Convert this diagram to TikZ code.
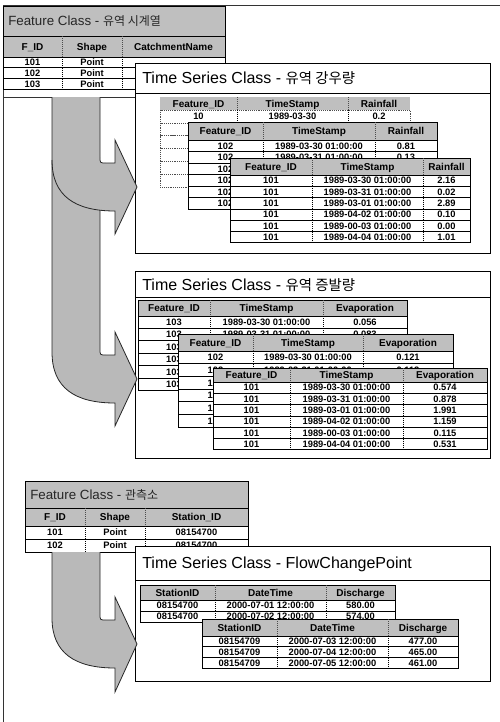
\documentclass[tikz,border=0pt]{standalone}
\usepackage{fontspec}
\setmainfont{Liberation Sans}
\newfontfamily\kr{Noto Sans CJK KR}[Scale=0.9]
\tikzset{
  hdr/.style={fill=gray!50, draw=black, line width=0.5pt},
  rowbox/.style={fill=white, draw=black, line width=0.5pt},
  csep/.style={densely dotted, line width=0.5pt},
  hsep/.style={densely dotted, line width=0.5pt, draw=black!70},
  htxt/.style={font=\bfseries\fontsize{7.5}{8}\selectfont, inner sep=0pt, text height=5.4pt, text depth=0pt},
  ctxt/.style={font=\bfseries\fontsize{7}{8}\selectfont, inner sep=0pt, text height=5pt, text depth=0pt},
  tsbox/.style={fill=white, draw=black, line width=0.75pt},
  tsline/.style={draw=black, line width=0.75pt},
  tstitle/.style={font=\fontsize{12}{14}\selectfont, anchor=west, inner sep=0pt},
  fctitle/.style={font=\fontsize{10}{12}\selectfont, anchor=west, inner sep=0pt, text=black!85},
  arrowfill/.style={fill=gray!55},
  arrowline/.style={draw=black!85, line width=0.6pt},
  frameline/.style={draw=black!80, line width=0.6pt}
}
% #1 name, #2 x0, #3 x1, #4 x2, #5 x3, #6 ytop, #7 yhead, #8 rowh, #9 rows
\newcommand\mktable[9]{%
  \foreach \a/\b/\c [count=\k from 0] in {#9}{%
    \ifnum\k=0
      \path[hdr] (#2,#6) rectangle (#5,#7);
      \draw[hsep] (#3,#6) -- (#3,#7) (#4,#6) -- (#4,#7);
      \node[htxt] (#1-h1) at ({(#2+#3)/2},{(#6+#7)/2}) {\a};
      \node[htxt] (#1-h2) at ({(#3+#4)/2},{(#6+#7)/2}) {\b};
      \node[htxt] (#1-h3) at ({(#4+#5)/2},{(#6+#7)/2}) {\c};
    \else
      \pgfmathsetmacro\ya{#7+(\k-1)*#8}%
      \pgfmathsetmacro\yb{#7+\k*#8}%
      \path[rowbox] (#2,\ya) rectangle (#5,\yb);
      \draw[csep] (#3,\ya) -- (#3,\yb) (#4,\ya) -- (#4,\yb);
      \node[ctxt] (#1-\k-1) at ({(#2+#3)/2},{(\ya+\yb)/2}) {\a};
      \node[ctxt] (#1-\k-2) at ({(#3+#4)/2},{(\ya+\yb)/2}) {\b};
      \node[ctxt] (#1-\k-3) at ({(#4+#5)/2},{(\ya+\yb)/2}) {\c};
    \fi
  }%
}
\begin{document}
\begin{tikzpicture}[x=0.75pt,y=-0.75pt]
\useasboundingbox (0,0) rectangle (500,722);
% outer frame
\draw[frameline] (3,722) -- (3,5) -- (500,5);

% ---------- Feature Class 1 ----------
\path[hdr] (3,6) rectangle (225,36);
\node[fctitle] (fc1-title) at (8,21) {Feature Class - {\kr 유역 시계열}};
\mktable{fc1t}{3}{62}{122}{225}{36}{57}{10.8}{F\_ID/Shape/CatchmentName, 101/Point/, 102/Point/, 103/Point/}
\draw[frameline] (3,97) -- (135,97);

% ---------- Time Series 1 ----------
\path[tsbox] (135,63) rectangle (490,253);
\draw[tsline] (135,93) -- (490,93);
\node[tstitle] (ts1-title) at (142,78) {Time Series Class - {\kr 유역 강우량}};
\begin{scope}[rowbox/.style={fill=white, draw=black!70, densely dotted, line width=0.4pt},
              hdr/.style={fill=gray!50}]
\mktable{t1a}{160}{237}{348}{410}{97}{110}{12.8}{Feature\_ID/TimeStamp/Rainfall, 10/1989-03-30/0.2, //, //, //, //, //}
\end{scope}
\mktable{t1b}{188}{263}{375}{437}{122}{140}{11.5}{Feature\_ID/TimeStamp/Rainfall, 102/1989-03-30 01:00:00/0.81, 102/1989-03-31 01:00:00/0.13, 102//, 102//, 102//, 102//}
\mktable{t1c}{230}{312}{423}{470}{158}{175}{11.3}{Feature\_ID/TimeStamp/Rainfall, 101/1989-03-30 01:00:00/2.16, 101/1989-03-31 01:00:00/0.02, 101/1989-03-01 01:00:00/2.89, 101/1989-04-02 01:00:00/0.10, 101/1989-00-03 01:00:00/0.00, 101/1989-04-04 01:00:00/1.01}

% ---------- Time Series 2 ----------
\path[tsbox] (135,271) rectangle (490,458);
\draw[tsline] (135,297) -- (490,297);
\node[tstitle] (ts2-title) at (142,285) {Time Series Class - {\kr 유역 증발량}};
\mktable{t2a}{138}{210}{323}{407}{300}{316}{12.4}{Feature\_ID/TimeStamp/Evaporation, 103/1989-03-30 01:00:00/0.056, 103/1989-03-31 01:00:00/0.083, 103//, 103//, 103//, 103//}
\mktable{t2b}{178}{253}{363}{453}{334}{351}{12.7}{Feature\_ID/TimeStamp/Evaporation, 102/1989-03-30 01:00:00/0.121, 102/1989-03-31 01:00:00/0.112, 102//, 102//, 102//, 102//}
\mktable{t2c}{213}{290}{403}{487}{368}{382}{11.3}{Feature\_ID/TimeStamp/Evaporation, 101/1989-03-30 01:00:00/0.574, 101/1989-03-31 01:00:00/0.878, 101/1989-03-01 01:00:00/1.991, 101/1989-04-02 01:00:00/1.159, 101/1989-00-03 01:00:00/0.115, 101/1989-04-04 01:00:00/0.531}

% ---------- Feature Class 2 ----------
\path[hdr] (25,481) rectangle (248,508);
\node[fctitle] (fc2-title) at (30,495) {Feature Class - {\kr 관측소}};
\mktable{fc2t}{25}{85}{145}{248}{508}{526}{13}{F\_ID/Shape/Station\_ID, 101/Point/08154700, 102/Point/08154700}

% ---------- Time Series 3 ----------
\path[tsbox] (135,546) rectangle (490,681);
\draw[tsline] (135,580) -- (490,580);
\node[tstitle] (ts3-title) at (142,564) {Time Series Class - FlowChangePoint};
\mktable{t3a}{140}{215}{326}{395}{585}{600}{11}{StationID/DateTime/Discharge, 08154700/2000-07-01 12:00:00/580.00, 08154700/2000-07-02 12:00:00/574.00}
\mktable{t3b}{202}{277}{388}{458}{619}{636}{10.8}{StationID/DateTime/Discharge, 08154709/2000-07-03 12:00:00/477.00, 08154709/2000-07-04 12:00:00/465.00, 08154709/2000-07-05 12:00:00/461.00}

% ---------- Arrows (upper trunk) ----------
\fill[arrowfill] (52,97) -- (100,97) -- (100,349) .. controls (100,355) .. (106,355) -- (115,355) -- (115,332) -- (137,379) -- (115,426) -- (115,403) .. controls (75,403) and (52,388) .. (52,352) -- cycle;
\fill[arrowfill] (100,157) .. controls (100,163) .. (106,163) -- (115,163) -- (115,140) -- (137,187) -- (115,234) -- (115,211) .. controls (75,211) and (52,196) .. (52,160) -- (52,157) -- cycle;
\draw[arrowline] (52,97) -- (52,352) .. controls (52,388) and (75,403) .. (115,403) -- (115,426) -- (137,379) -- (115,332) -- (115,355) -- (106,355) .. controls (100,355) .. (100,349) -- (100,210);
\draw[arrowline] (100,97) -- (100,157) .. controls (100,163) .. (106,163) -- (115,163) -- (115,140) -- (137,187) -- (115,234) -- (115,211) .. controls (75,211) and (52,196) .. (52,160);

% ---------- Arrow (lower trunk) ----------
\fill[arrowfill] (52,552) -- (100,552) -- (100,614) .. controls (100,620) .. (106,620) -- (115,620) -- (115,597) -- (137,644) -- (115,692) -- (115,668) .. controls (75,668) and (52,653) .. (52,618) -- cycle;
\draw[arrowline] (100,552) -- (100,614) .. controls (100,620) .. (106,620) -- (115,620) -- (115,597) -- (137,644) -- (115,692) -- (115,668) .. controls (75,668) and (52,653) .. (52,618) -- (52,552);
\end{tikzpicture}
\end{document}
